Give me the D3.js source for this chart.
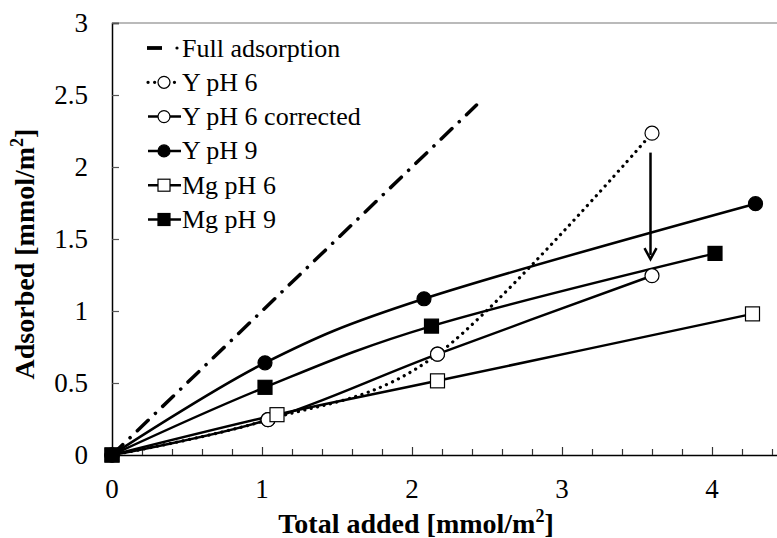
<!DOCTYPE html>
<html>
<head>
<meta charset="utf-8">
<script src="https://cdn.jsdelivr.net/npm/d3@7"></script>
<style>
  html, body { margin: 0; padding: 0; background: #fff; overflow: hidden; }
  svg text { font-family: "Liberation Serif", "Times New Roman", "DejaVu Serif", serif; }
</style>
</head>
<body>
<svg id="chart" width="777" height="538"></svg>
<script>
// Adsorption data [mmol/m²]: total added vs adsorbed
const fullX = [0, 2.43];
const fullY = [0, 2.43];

const yPh6X = [0, 1.04, 2.17, 3.60];
const yPh6Y = [0, 0.245, 0.70, 2.235];

const yPh6CorrX = [0, 1.04, 2.17, 3.60];
const yPh6CorrY = [0, 0.245, 0.70, 1.245];

const yPh9X = [0, 1.02, 2.08, 4.29];
const yPh9Y = [0, 0.64, 1.085, 1.745];

const mgPh6X = [0, 1.10, 2.17, 4.27];
const mgPh6Y = [0, 0.28, 0.515, 0.98];

const mgPh9X = [0, 1.02, 2.13, 4.02];
const mgPh9Y = [0, 0.47, 0.895, 1.40];

// correction arrow (x, y from -> y to)
const arrowX = 3.59;
const arrowFrom = 2.10;
const arrowTo = 1.36;

const xTicks = [0, 1, 2, 3, 4];
const yTicks = [0, 0.5, 1, 1.5, 2, 2.5, 3];
const legendLabels = ["Full adsorption", "Y pH 6", "Y pH 6 corrected", "Y pH 9", "Mg pH 6", "Mg pH 9"];

const FONT = "'Liberation Serif', 'Times New Roman', 'DejaVu Serif', serif";

const svg = d3.select("#chart");
const x = d3.scaleLinear().domain([0, 4.5]).range([112, 787]);
const y = d3.scaleLinear().domain([0, 3]).range([455, 23]);

const zip = (xs, ys) => xs.map((v, i) => [v, ys[i]]);

// plot frame: top border
svg.append("line")
  .attr("x1", x(0)).attr("x2", x(4.5))
  .attr("y1", y(3)).attr("y2", y(3))
  .attr("stroke", "#777").attr("stroke-width", 1.2);

// y axis (ticks pointing inward)
const yAxis = svg.append("g").attr("transform", `translate(${x(0)},0)`)
  .call(d3.axisRight(y).tickValues(yTicks).tickSize(7).tickFormat(""));
yAxis.select(".domain").attr("stroke", "#000").attr("stroke-width", 1.5);
yAxis.selectAll(".tick line").attr("stroke", "#555").attr("stroke-width", 1.2);

svg.append("g").selectAll("text").data(yTicks).join("text")
  .attr("x", 88).attr("y", d => y(d))
  .attr("dy", "0.34em")
  .attr("text-anchor", "end")
  .attr("font-family", FONT)
  .attr("font-size", 27)
  .text(d => d3.format("~g")(d));

// x axis (minor + major ticks pointing up)
const xMinor = d3.range(0, 4.5001, 0.2);
const xAxis = svg.append("g").attr("transform", `translate(0,${y(0)})`)
  .call(d3.axisTop(x).tickValues(xMinor).tickSize(6).tickFormat(""));
xAxis.select(".domain").attr("stroke", "#000").attr("stroke-width", 1.5);
xAxis.selectAll(".tick line")
  .attr("stroke", "#333").attr("stroke-width", 1.2)
  .attr("y2", d => (Math.abs(d - Math.round(d)) < 1e-6 ? -8 : -6));

svg.append("g").selectAll("text").data(xTicks).join("text")
  .attr("x", d => x(d)).attr("y", 489)
  .attr("dy", "0.34em")
  .attr("text-anchor", "middle")
  .attr("font-family", FONT)
  .attr("font-size", 27)
  .text(d => d);

// axis titles
const xt = svg.append("text")
  .attr("x", 416).attr("y", 533)
  .attr("text-anchor", "middle")
  .attr("font-family", FONT)
  .attr("font-size", 28).attr("font-weight", "bold");
xt.append("tspan").text("Total added [mmol/m");
xt.append("tspan").attr("dy", -11).attr("font-size", 18).text("2");
xt.append("tspan").attr("dy", 11).text("]");

const yt = svg.append("text")
  .attr("transform", "translate(34,254) rotate(-90)")
  .attr("text-anchor", "middle")
  .attr("font-family", FONT)
  .attr("font-size", 28).attr("font-weight", "bold");
yt.append("tspan").text("Adsorbed [mmol/m");
yt.append("tspan").attr("dy", -11).attr("font-size", 18).text("2");
yt.append("tspan").attr("dy", 11).text("]");

// series definitions
const series = [
  { pts: zip(fullX, fullY), dash: "15,10,0.1,10", width: 3.5, cap: "round", marker: null, smooth: false },
  { pts: zip(yPh6X, yPh6Y), dash: "0.1,6.5", width: 3.2, cap: "round", marker: "circle", fill: "#fff", smooth: true },
  { pts: zip(yPh6CorrX, yPh6CorrY), dash: null, width: 2.5, marker: "circle", fill: "#fff", smooth: true },
  { pts: zip(yPh9X, yPh9Y), dash: null, width: 2.5, marker: "circle", fill: "#000", smooth: true },
  { pts: zip(mgPh6X, mgPh6Y), dash: null, width: 2.5, marker: "square", fill: "#fff", smooth: true },
  { pts: zip(mgPh9X, mgPh9Y), dash: null, width: 2.5, marker: "square", fill: "#000", smooth: true }
];

const smoothLine = d3.line().x(d => x(d[0])).y(d => y(d[1])).curve(d3.curveCardinal.tension(0));
const straightLine = d3.line().x(d => x(d[0])).y(d => y(d[1]));

// lines first
series.forEach(s => {
  svg.append("path")
    .attr("d", (s.smooth ? smoothLine : straightLine)(s.pts))
    .attr("fill", "none")
    .attr("stroke", "#000")
    .attr("stroke-width", s.width)
    .attr("stroke-linecap", s.cap || "butt")
    .attr("stroke-dasharray", s.dash);
});

function drawMarker(g, type, cx, cy, fill, r) {
  if (type === "circle") {
    g.append("circle").attr("cx", cx).attr("cy", cy).attr("r", r)
      .attr("fill", fill).attr("stroke", "#000").attr("stroke-width", 1.2);
  } else if (type === "square") {
    g.append("rect").attr("x", cx - r).attr("y", cy - r).attr("width", 2 * r).attr("height", 2 * r)
      .attr("fill", fill).attr("stroke", "#000").attr("stroke-width", 1.2);
  }
}

// markers
const markerLayer = svg.append("g");
series.forEach(s => {
  if (!s.marker) return;
  s.pts.forEach(p => drawMarker(markerLayer, s.marker, x(p[0]), y(p[1]), s.fill, 7));
});

// arrow
const ax = x(arrowX), ay1 = y(arrowFrom), ay2 = y(arrowTo);
svg.append("line").attr("x1", ax).attr("x2", ax).attr("y1", ay1).attr("y2", ay2 - 4)
  .attr("stroke", "#000").attr("stroke-width", 2.5);
svg.append("path")
  .attr("d", `M${ax - 6},${ay2 - 11} L${ax},${ay2} L${ax + 6},${ay2 - 11}`)
  .attr("fill", "none").attr("stroke", "#000").attr("stroke-width", 2.5);

// legend
const lg = svg.append("g");
legendLabels.forEach((label, i) => {
  const s = series[i];
  const cy = 48 + i * 34.3;
  if (i === 0) {
    lg.append("line").attr("x1", 147).attr("x2", 162).attr("y1", cy).attr("y2", cy)
      .attr("stroke", "#000").attr("stroke-width", 3.8);
    lg.append("circle").attr("cx", 177).attr("cy", cy).attr("r", 1.6).attr("fill", "#000");
  } else {
    lg.append("line")
      .attr("x1", 148).attr("x2", 181).attr("y1", cy).attr("y2", cy)
      .attr("stroke", "#000")
      .attr("stroke-width", s.dash ? s.width : 2.5)
      .attr("stroke-linecap", s.cap || "butt")
      .attr("stroke-dasharray", s.dash ? "0.1,6.5" : null);
    drawMarker(lg, s.marker, 164, cy, s.fill, 6);
  }
  lg.append("text")
    .attr("x", i === 0 ? 182 : 182).attr("y", cy).attr("dy", "0.33em")
    .attr("font-family", FONT)
    .attr("font-size", 26)
    .text(label);
});
</script>
</body>
</html>
